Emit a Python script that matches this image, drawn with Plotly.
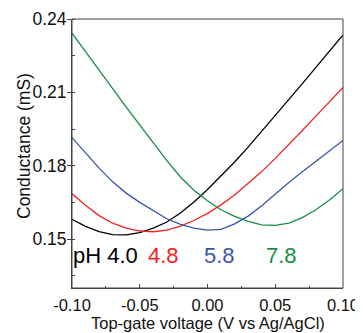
import plotly.graph_objects as go

voltage = [-0.10, -0.09, -0.08, -0.07, -0.06, -0.05, -0.04, -0.03, -0.02, -0.01, 0.00,
           0.01, 0.02, 0.03, 0.04, 0.05, 0.06, 0.07, 0.08, 0.09, 0.10]

g_ph40 = [0.1581, 0.1552, 0.1531, 0.1518, 0.1517, 0.1526, 0.1545, 0.1570, 0.1607, 0.1652, 0.1703,
          0.1758, 0.1815, 0.1876, 0.1940, 0.2005, 0.2070, 0.2136, 0.2202, 0.2268, 0.2335]
g_ph48 = [0.1685, 0.1638, 0.1596, 0.1565, 0.1545, 0.1533, 0.1530, 0.1537, 0.1553, 0.1576, 0.1605,
          0.1640, 0.1680, 0.1726, 0.1776, 0.1830, 0.1886, 0.1944, 0.2003, 0.2062, 0.2120]
g_ph58 = [0.1915, 0.1851, 0.1790, 0.1734, 0.1688, 0.1650, 0.1615, 0.1583, 0.1560, 0.1545, 0.1537,
          0.1540, 0.1562, 0.1594, 0.1636, 0.1684, 0.1731, 0.1775, 0.1818, 0.1860, 0.1903]
g_ph78 = [0.2342, 0.2265, 0.2190, 0.2115, 0.2040, 0.1966, 0.1893, 0.1821, 0.1754, 0.1700, 0.1657,
          0.1620, 0.1593, 0.1572, 0.1558, 0.1556, 0.1565, 0.1588, 0.1620, 0.1660, 0.1706]

series_names = ["pH 4.0", "4.8", "5.8", "7.8"]
series_colors = ["#000000", "#f52222", "#3a56aa", "#178c4a"]
label_x = [-0.0755, -0.0325, 0.0085, 0.0546]
label_y = 0.1432

x_title = "Top-gate voltage (V vs Ag/AgCl)"
y_title = "Conductance (mS)"

FONT = "Liberation Sans, Arial, Helvetica, sans-serif"

fig = go.Figure()
for vals, name, col in zip([g_ph40, g_ph48, g_ph58, g_ph78], series_names, series_colors):
    fig.add_trace(go.Scatter(x=voltage, y=vals, mode="lines", name=name,
                             line=dict(color=col, width=1.3), showlegend=False))

for name, col, lx in zip(series_names, series_colors, label_x):
    fig.add_annotation(x=lx, y=label_y, xref="x", yref="y", text=name, showarrow=False,
                       font=dict(family=FONT, size=22, color=col), xanchor="center", yanchor="middle")

fig.add_annotation(x=0.5, y=-0.131, xref="paper", yref="paper", text=x_title, showarrow=False,
                   font=dict(family=FONT, size=16.5, color="#111111"),
                   xanchor="center", yanchor="middle", borderpad=0)
fig.add_annotation(x=-0.177, y=0.528, xref="paper", yref="paper", text=y_title, showarrow=False,
                   textangle=-90, font=dict(family=FONT, size=17.5, color="#111111"),
                   xanchor="center", yanchor="middle", borderpad=0)

fig.add_shape(type="rect", xref="paper", yref="paper", x0=0, y0=0, x1=1, y1=1,
              line=dict(color="#444444", width=1), layer="above")

fig.update_layout(
    width=355, height=325,
    margin=dict(l=64, r=20, t=11, b=45, autoexpand=False),
    paper_bgcolor="white", plot_bgcolor="white",
    font=dict(family=FONT, size=17, color="#111111"),
    xaxis=dict(
        range=[-0.10, 0.10], tickvals=[-0.10, -0.05, 0.0, 0.05, 0.10],
        ticktext=["-0.10", "-0.05", "0.00", "0.05", "0.10"],
        ticks="inside", ticklen=4, tickcolor="#444444", tickwidth=1,
        minor=dict(ticks="inside", ticklen=2.5, dtick=0.025, tick0=-0.10, tickcolor="#444444"),
        showgrid=False, zeroline=False, showline=True, linecolor="#444444", linewidth=1,
        tickfont=dict(size=16.5), automargin=False, ticklabelstandoff=2,
    ),
    yaxis=dict(
        range=[0.13, 0.24], tickvals=[0.15, 0.18, 0.21, 0.24],
        ticktext=["0.15", "0.18", "0.21", "0.24"],
        ticks="outside", ticklen=4, tickcolor="#444444", tickwidth=1,
        minor=dict(ticks="inside", ticklen=3, dtick=0.015, tick0=0.135, tickcolor="#444444"),
        showgrid=False, zeroline=False, showline=True, linecolor="#444444", linewidth=1,
        tickfont=dict(size=17.5), automargin=False, ticklabelstandoff=-3,
    ),
)

fig.write_html("out.html")
